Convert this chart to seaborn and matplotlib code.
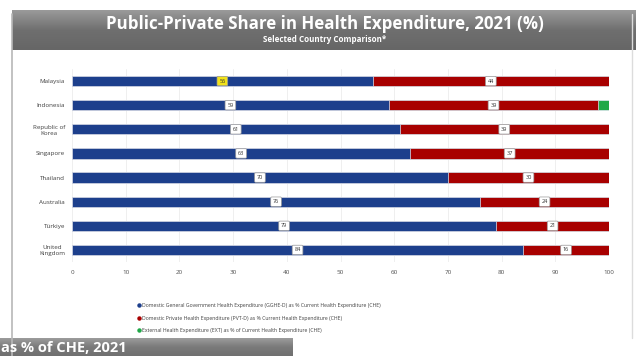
import numpy as np
import pandas as pd
import seaborn as sns
import matplotlib.pyplot as plt
from matplotlib.lines import Line2D

countries = ["Malaysia", "Indonesia", "Republic of\nKorea", "Singapore",
             "Thailand", "Australia", "Türkiye", "United\nKingdom"]
gghe = [56, 59, 61, 63, 70, 76, 79, 84]
pvtd = [44, 39, 39, 37, 30, 24, 21, 16]
ext = [0, 2, 0, 0, 0, 0, 0, 0]
xticks = [0, 10, 20, 30, 40, 50, 60, 70, 80, 90, 100]

series_names = [
    "Domestic General Government Health Expenditure (GGHE-D) as % Current Health Expenditure (CHE)",
    "Domestic Private Health Expenditure (PVT-D) as % Current Health Expenditure (CHE)",
    "External Health Expenditure (EXT) as % of Current Health Expenditure (CHE)",
]

BLUE = "#1d3f8c"
RED = "#a80000"
GREEN = "#1fa847"

sns.set_theme(style="white")
plt.rcParams["font.family"] = ["Open Sans", "DejaVu Sans"]

df = pd.DataFrame({"country": countries, "gghe": gghe, "pvtd": pvtd, "ext": ext})
df["cum_pvt"] = df["gghe"] + df["pvtd"]
df["cum_ext"] = df["cum_pvt"] + df["ext"]

fig = plt.figure(figsize=(6.4, 3.56), dpi=100)
fig.patch.set_facecolor("white")

# panel frame
fig.add_artist(Line2D([12 / 640, 12 / 640], [0, 1 - 14 / 356], color="#b8b8b8", lw=1.2,
                      transform=fig.transFigure))
fig.add_artist(Line2D([632 / 640, 632 / 640], [0.05, 1 - 14 / 356], color="#dcdcdc", lw=1.0,
                      transform=fig.transFigure))

# title banner with vertical gradient
ban = fig.add_axes([12 / 640, 1 - 50 / 356, 624 / 640, 40 / 356])
grad = np.linspace(0, 1, 64).reshape(-1, 1)
ban.imshow(grad, aspect="auto", cmap=sns.blend_palette(["#9a9a9a", "#6f6f6f", "#666666"], as_cmap=True),
           extent=[0, 1, 0, 1], origin="upper")
ban.set_axis_off()
fig.text(0.507, 1 - 24 / 356, "Public-Private Share in Health Expenditure, 2021 (%)",
         ha="center", va="center", color="white", fontsize=12.2, fontweight="bold")
fig.text(0.507, 1 - 40 / 356, "Selected Country Comparison*",
         ha="center", va="center", color="white", fontsize=5.8, fontweight="bold")

# chart
ax = fig.add_axes([72 / 640, 1 - 262 / 356, 537 / 640, 193 / 356])
w = 0.42
kw = dict(orient="h", width=w, edgecolor="#dfe6f0", linewidth=0.5, ax=ax, zorder=3)
sns.barplot(data=df, x="cum_ext", y="country", color=GREEN, saturation=1, **kw)
sns.barplot(data=df, x="cum_pvt", y="country", color=RED, saturation=1, **kw)
sns.barplot(data=df, x="gghe", y="country", color=BLUE, saturation=1, **kw)

ax.set_xlim(0, 100)
ax.set_ylim(7.5, -0.5)
ax.set_xticks(xticks)
ax.set_xticklabels([str(t) for t in xticks], fontsize=4.5, color="#505050")
ax.set_yticklabels(countries, fontsize=4.5, color="#404040", multialignment="center")
ax.tick_params(axis="both", length=0, pad=5)
ax.tick_params(axis="x", pad=6)
ax.set_xlabel("")
ax.set_ylabel("")
ax.grid(axis="x", color="#ececec", lw=0.6, zorder=0)
for s in ax.spines.values():
    s.set_visible(False)

for i, (g, p) in enumerate(zip(gghe, pvtd)):
    fc = "#f2e21a" if i == 0 else "white"
    ax.text(g / 2, i, str(g), ha="center", va="center", fontsize=4, color="#303030", zorder=5,
            bbox=dict(boxstyle="round,pad=0.4,rounding_size=0.2", fc=fc, ec="#9a9a9a", lw=0.5))
    ax.text(g + p / 2, i, str(p), ha="center", va="center", fontsize=4, color="#303030", zorder=5,
            bbox=dict(boxstyle="round,pad=0.4,rounding_size=0.2", fc="white", ec="#9a9a9a", lw=0.5))

handles = [Line2D([], [], marker="o", ls="", color=c, markersize=2.2) for c in (BLUE, RED, GREEN)]
fig.legend(handles, series_names, loc="upper left", bbox_to_anchor=(133 / 640, 1 - 299 / 356),
           frameon=False, fontsize=3.7, labelspacing=1.45, handletextpad=0.2, handlelength=0.8,
           borderpad=0.3, labelcolor="#404040")

# strip of the neighbouring caption along the bottom edge
bot = fig.add_axes([0, 0, 293 / 640, 18 / 356])
bot.imshow(grad, aspect="auto", cmap=sns.blend_palette(["#9c9c9c", "#7a7a7a", "#707070"], as_cmap=True),
           extent=[0, 1, 0, 1], origin="upper")
bot.set_axis_off()
fig.text(1 / 640, 1 / 356, "as % of CHE, 2021", ha="left", va="bottom", color="white",
         fontsize=10.5, fontweight="bold")

fig.savefig("out.png", dpi=100)
